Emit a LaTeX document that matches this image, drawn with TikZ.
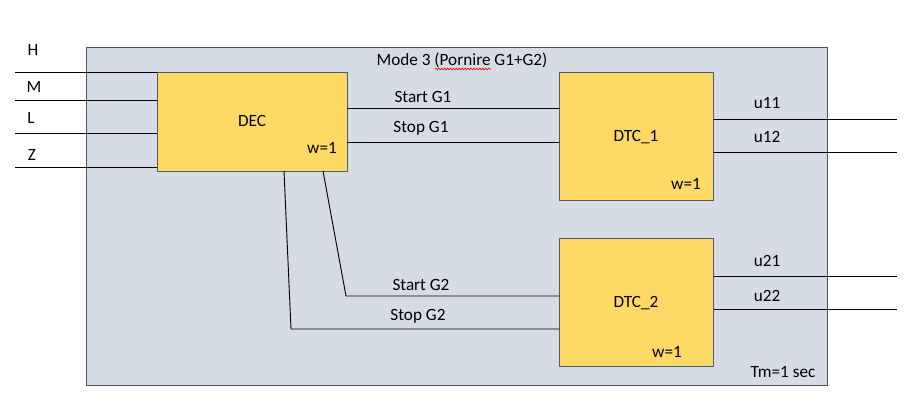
\documentclass[tikz,border=0pt]{standalone}
\usepackage{fontspec}
\setmainfont{Carlito}
\usetikzlibrary{decorations.pathmorphing}
\definecolor{bgfill}{HTML}{D6DCE5}
\definecolor{bgborder}{HTML}{44546A}
\definecolor{boxfill}{HTML}{FFD966}
\definecolor{boxborder}{HTML}{4F5B68}
\tikzset{
  blockbox/.style={draw=boxborder, fill=boxfill, line width=0.75pt, inner sep=0pt},
  sig/.style={draw=black, line width=0.7pt},
  lbl/.style={inner sep=0pt, font=\fontsize{12.9}{15}\selectfont}
}
\begin{document}
\begin{tikzpicture}[x=0.75pt, y=-0.75pt]
\useasboundingbox (0,0) rectangle (910,416);
% outer mode box
\node[draw=bgborder, fill=bgfill, line width=0.75pt, minimum width=741*0.75pt, minimum height=338*0.75pt, anchor=north west, inner sep=0pt] (mode) at (86,47) {};
\node[lbl] (title) at (462,60) {Mode 3 (Pornire G1+G2)};
\draw[red, line width=0.5pt, decorate, decoration={snake, amplitude=0.6pt, segment length=2.2pt}] (435,69) -- (491,69);
\node[lbl] (tm) at (783,372) {Tm=1 sec};

% blocks
\node[blockbox, minimum width=190*0.75pt, minimum height=99*0.75pt, anchor=north west] (dec) at (157,72) {};
\node[lbl] at (252,121) {DEC};
\node[lbl] at (322,148) {w=1};

\node[blockbox, minimum width=154*0.75pt, minimum height=128*0.75pt, anchor=north west] (dtc1) at (559,72) {};
\node[lbl] at (636,137) {DTC\_1};
\node[lbl] at (686,184) {w=1};

\node[blockbox, minimum width=154*0.75pt, minimum height=128*0.75pt, anchor=north west] (dtc2) at (559,238) {};
\node[lbl] at (636,303) {DTC\_2};
\node[lbl] at (667,352) {w=1};

% inputs
\coordinate (inH) at (15,72);
\coordinate (inM) at (15,100);
\coordinate (inL) at (15,133);
\coordinate (inZ) at (15,167);
\draw[sig] (inH) -- (dec.north west);
\draw[sig] (inM) -- (inM -| dec.west);
\draw[sig] (inL) -- (inL -| dec.west);
\draw[sig] (inZ) -- (inZ -| dec.west);
\node[lbl] (lH) at (33,50) {H};
\node[lbl] (lM) at (34,87) {M};
\node[lbl] (lL) at (31,118) {L};
\node[lbl] (lZ) at (32,155) {Z};

% DEC -> DTC_1
\coordinate (s1) at (347,108);
\coordinate (p1) at (347,142);
\draw[sig] (s1) -- (s1 -| dtc1.west);
\draw[sig] (p1) -- (p1 -| dtc1.west);
\node[lbl] at (423,97) {Start G1};
\node[lbl] at (421,128) {Stop G1};

% DEC -> DTC_2
\coordinate (s2a) at (323,171);
\coordinate (s2b) at (346,296);
\coordinate (p2a) at (284,171);
\coordinate (p2b) at (291,329);
\draw[sig] (s2a) -- (s2b) -- (s2b -| dtc2.west);
\draw[sig] (p2a) -- (p2b) -- (p2b -| dtc2.west);
\node[lbl] at (421,285) {Start G2};
\node[lbl] at (418,316) {Stop G2};

% outputs
\coordinate (o11) at (897,119);
\coordinate (o12) at (897,152);
\coordinate (o21) at (897,276);
\coordinate (o22) at (897,309);
\draw[sig] (o11 -| dtc1.east) -- (o11);
\draw[sig] (o12 -| dtc1.east) -- (o12);
\draw[sig] (o21 -| dtc2.east) -- (o21);
\draw[sig] (o22 -| dtc2.east) -- (o22);
\node[lbl] at (767,103) {u11};
\node[lbl] at (767,137) {u12};
\node[lbl] at (767,261) {u21};
\node[lbl] at (767,296) {u22};
\end{tikzpicture}
\end{document}
